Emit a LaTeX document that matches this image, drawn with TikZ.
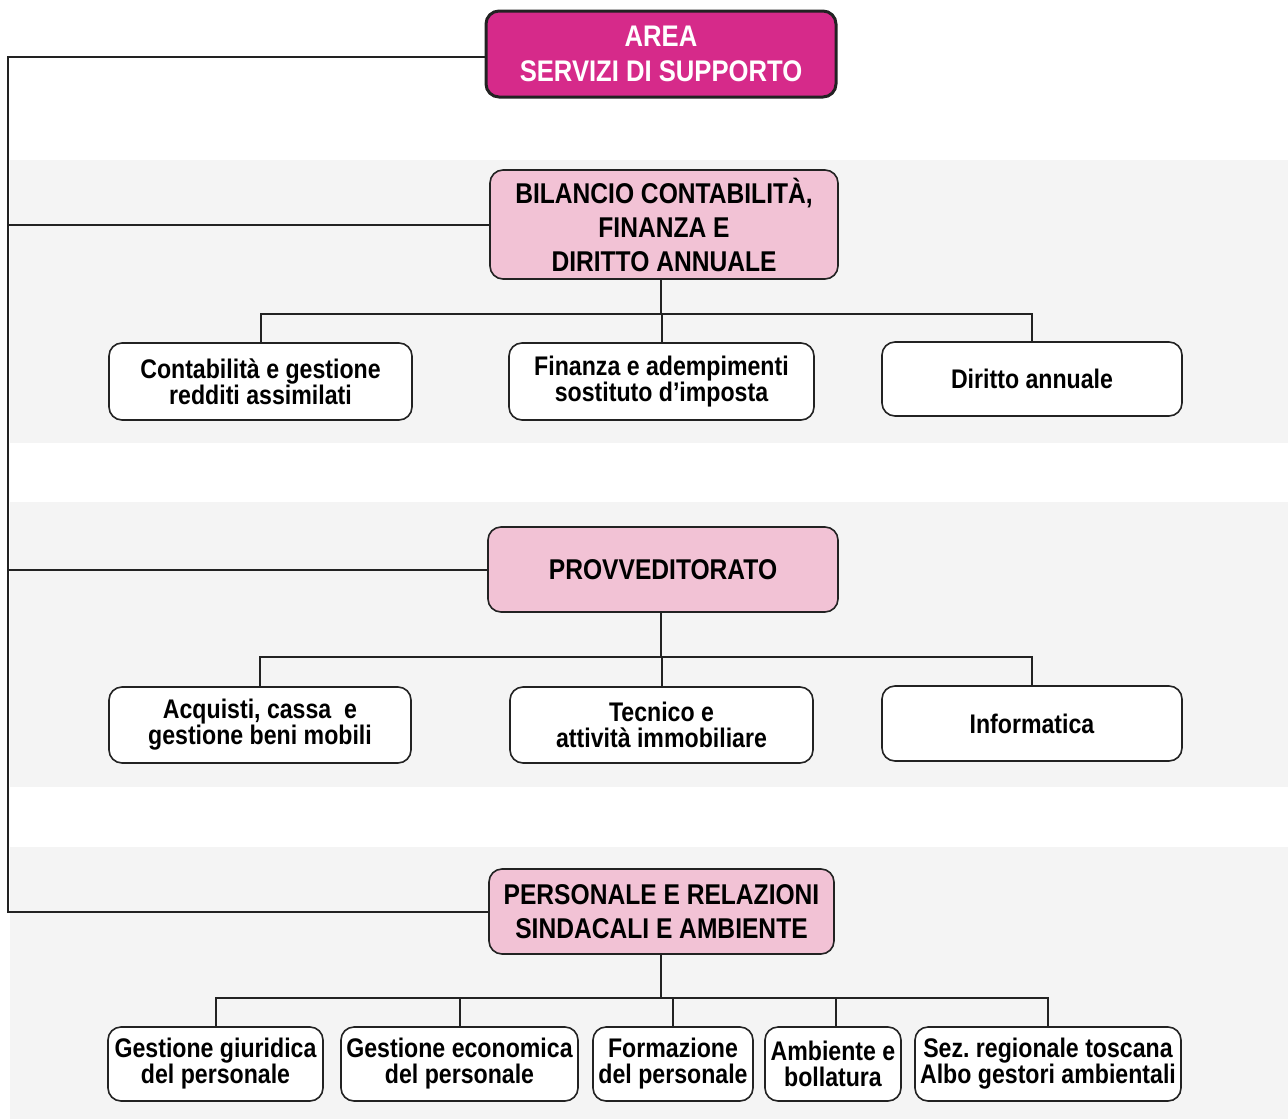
\documentclass[tikz,border=0pt]{standalone}
\usepackage{fontspec}
\setmainfont{Liberation Sans}[FakeStretch=0.86]
\definecolor{mag}{HTML}{D62A8A}
\definecolor{pinkb}{HTML}{F2C2D5}
\definecolor{band}{HTML}{F4F4F4}
\definecolor{edge}{HTML}{222222}
\tikzset{
  box/.style={draw=edge, line width=1.6pt, rounded corners=13pt, fill=white, inner sep=0pt, align=center,
    font=\fontsize{26.9}{26}\selectfont\bfseries},
  headbox/.style={box, fill=pinkb, font=\fontsize{28.6}{34}\selectfont\bfseries},
  topbox/.style={box, fill=mag, line width=3pt, text=white, font=\fontsize{29.8}{35}\selectfont\bfseries},
  conn/.style={draw=edge, line width=2pt}
}
\begin{document}
\begin{tikzpicture}[x=1pt,y=-1pt]
\useasboundingbox (0,0) rectangle (1288,1119);
\fill[white] (0,0) rectangle (1288,1119);
\fill[band] (10,160) rectangle (1288,443);
\fill[band] (10,502) rectangle (1288,787);
\fill[band] (10,847) rectangle (1288,1119);

\node[topbox, minimum width=350pt, minimum height=86pt] (top) at (661,54) {AREA\\SERVIZI DI SUPPORTO};
\node[headbox, minimum width=348pt, minimum height=109pt] (bil) at (664,224.5) {BILANCIO CONTABILITÀ,\\FINANZA E\\DIRITTO ANNUALE};
\node[box, minimum width=303pt, minimum height=77pt] (c11) at (260.5,381.5) {Contabilità e gestione\\redditi assimilati};
\node[box, minimum width=305pt, minimum height=77pt] (c12) at (661.5,381.5) {Finanza e adempimenti\\sostituto d’imposta};
\node[box, minimum width=300pt, minimum height=74pt] (c13) at (1032,379) {\raisebox{-3pt}{Diritto annuale}};

\node[headbox, minimum width=350pt, minimum height=85pt] (prov) at (663,569.5) {\raisebox{-3pt}{PROVVEDITORATO}};
\node[box, minimum width=302pt, minimum height=76pt] (c21) at (260,725) {Acquisti, cassa \ e\\gestione beni mobili};
\node[box, minimum width=303pt, minimum height=76pt] (c22) at (661.5,725) {Tecnico e\\attività immobiliare};
\node[box, minimum width=300pt, minimum height=75pt] (c23) at (1032,723.5) {Informatica};

\node[headbox, minimum width=345pt, minimum height=85pt] (pers) at (661.5,911.5) {PERSONALE E RELAZIONI\\SINDACALI E AMBIENTE};
\node[box, minimum width=215pt, minimum height=74pt] (c31) at (215.5,1064) {Gestione giuridica\\del personale};
\node[box, minimum width=237pt, minimum height=74pt] (c32) at (459.5,1064) {Gestione economica\\del personale};
\node[box, minimum width=160pt, minimum height=74pt] (c33) at (673,1064) {Formazione\\del personale};
\node[box, minimum width=136pt, minimum height=74pt] (c34) at (833,1064) {Ambiente e\\bollatura};
\node[box, minimum width=266pt, minimum height=74pt] (c35) at (1048,1064) {Sez.\ regionale toscana\\Albo gestori ambientali};

% left spine
\coordinate (ltop) at (8,57);
\draw[conn] (top.west |- ltop) -- (ltop) |- (pers.west);
\draw[conn] (ltop |- bil.west) -- (bil.west);
\draw[conn] (ltop |- prov.west) -- (prov.west);

% row 1
\coordinate (b1) at (661,314);
\draw[conn] (b1 |- bil.south) -- (b1);
\draw[conn] (c11.north) |- (b1) -| (c13.north);
\draw[conn] (c12.north) -- (c12.north |- b1);

% row 2
\coordinate (b2) at (661,657);
\draw[conn] (b2 |- prov.south) -- (b2);
\draw[conn] (c21.north) |- (b2) -| (c23.north);
\draw[conn] (c22.north) -- (c22.north |- b2);

% row 3
\coordinate (b3) at (661,998);
\draw[conn] (b3 |- pers.south) -- (b3);
\draw[conn] (c31.north -| 216,0) |- (b3) -| (c35.north);
\draw[conn] (c32.north) -- (c32.north |- b3);
\draw[conn] (c33.north) -- (c33.north |- b3);
\draw[conn] (c34.north -| 836,0) -- (836,998);
\end{tikzpicture}
\end{document}
